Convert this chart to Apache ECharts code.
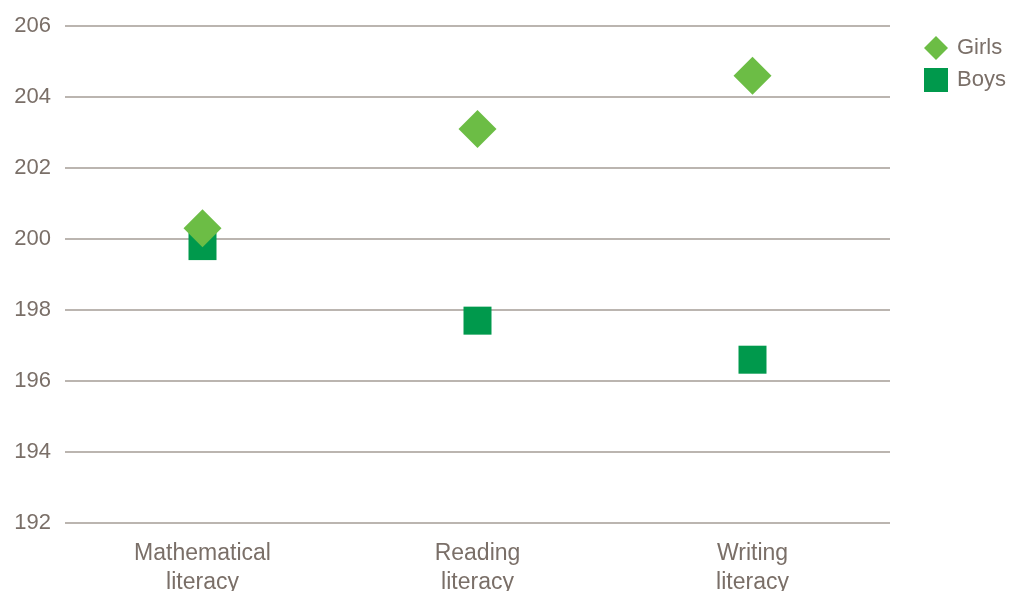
<!DOCTYPE html>
<html><head><meta charset="utf-8">
<script src="https://cdn.jsdelivr.net/npm/echarts@6/dist/echarts.min.js"></script>
<style>html,body{margin:0;padding:0;background:#fff}#c{width:1009px;height:591px}</style>
</head><body><div id="c"></div>
<script>
const categories = ['Mathematical\nliteracy', 'Reading\nliteracy', 'Writing\nliteracy'];
const girls = [200.3, 203.1, 204.6];
const boys = [199.8, 197.7, 196.6];
const yTicks = [192, 194, 196, 198, 200, 202, 204, 206];

const txt = '#7a6f68';
const chart = echarts.init(document.getElementById('c'));
chart.setOption({
  animation: false,
  textStyle: { fontFamily: 'Liberation Sans, Arial, sans-serif' },
  grid: { left: 65, right: 119, top: 26, bottom: 68, outerBoundsMode: 'none', containLabel: false },
  legend: {
    left: 924, top: 36, orient: 'vertical', itemGap: 8, padding: 0,
    itemWidth: 24, itemHeight: 24,
    textStyle: { color: txt, fontSize: 22, padding: [0, 0, 0, 4] },
    data: [
      { name: 'Girls', icon: 'diamond' },
      { name: 'Boys', icon: 'path://M4,4H20V20H4Z' }
    ]
  },
  xAxis: {
    type: 'category', data: categories,
    axisLine: { show: false }, axisTick: { show: false },
    axisLabel: { color: txt, fontSize: 23, lineHeight: 29, margin: 16 }
  },
  yAxis: {
    type: 'value', min: yTicks[0], max: yTicks[yTicks.length - 1], interval: 2,
    axisLine: { show: false }, axisTick: { show: false },
    axisLabel: { color: txt, fontSize: 22, margin: 14 },
    splitLine: { lineStyle: { color: '#a59c96', width: 1.5 } }
  },
  series: [
    { name: 'Boys', type: 'scatter', data: boys, symbol: 'rect', symbolSize: 28,
      itemStyle: { color: '#00994c', opacity: 1 }, z: 2 },
    { name: 'Girls', type: 'scatter', data: girls, symbol: 'diamond', symbolSize: 38,
      itemStyle: { color: '#6cbd45', opacity: 1 }, z: 3 }
  ]
});
</script></body></html>
